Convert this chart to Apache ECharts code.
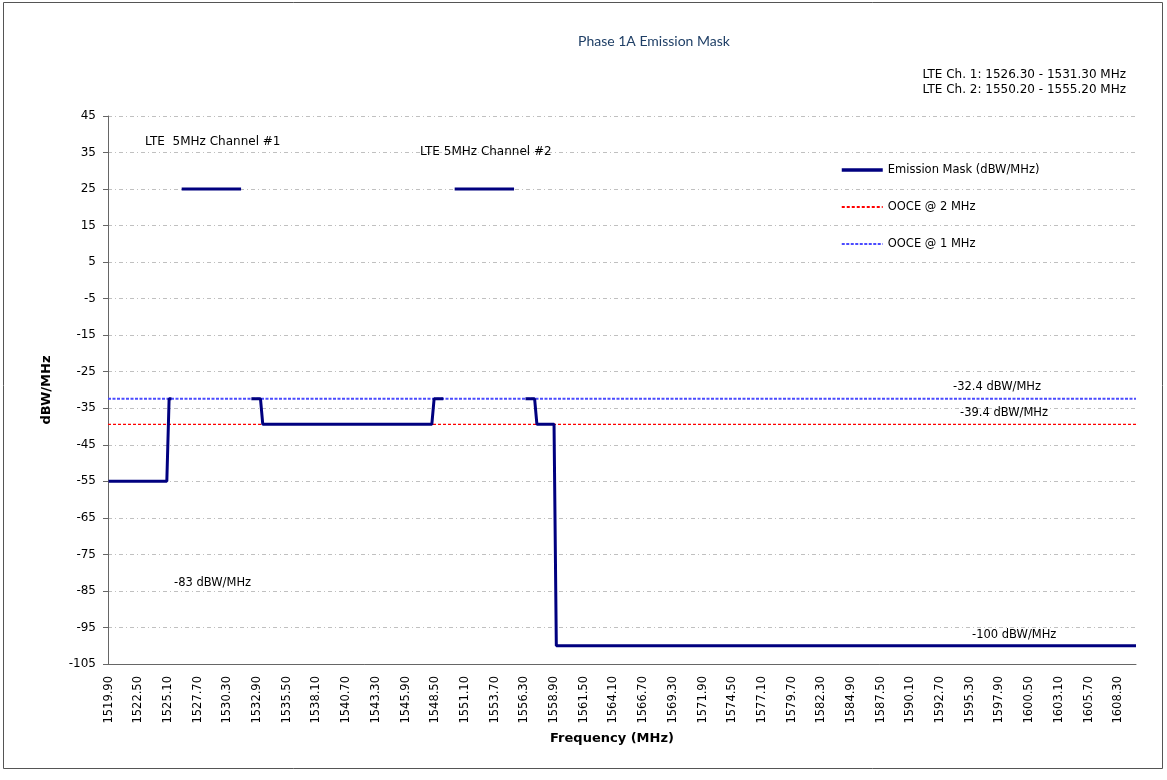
<!DOCTYPE html>
<html>
<head>
    <meta charset="utf-8"/>
    <title>Phase 1A Emission Mask</title>
    <script src="https://cdn.jsdelivr.net/npm/echarts@6/dist/echarts.min.js"></script>
    <style>
        html, body { margin: 0; padding: 0; background: #fff; }
        #chart { width: 1167px; height: 780px; }
    </style>
</head>
<body>
<div id="chart"></div>
<script>
    // x categories: 0.1 MHz steps, as in the spreadsheet
    var freqStart = 1519.9;
    var freqStep = 0.1;
    var freqCount = 900;
    var frequencies = [];
    for (var i = 0; i < freqCount; i++) {
        frequencies.push((freqStart + i * freqStep).toFixed(2));
    }

    // emission mask pieces [MHz, dBW/MHz]
    var maskLow = [[1519.9, -55], [1525.0, -55], [1525.2, -32.4], [1525.4, -32.4]];
    var ch1Band = [[1526.3, 25], [1531.5, 25]];
    var maskMid = [[1532.4, -32.4], [1533.2, -32.4], [1533.4, -39.4], [1548.2, -39.4],
                   [1548.4, -32.4], [1549.2, -32.4]];
    var ch2Band = [[1550.2, 25], [1555.4, 25]];
    var maskHigh = [[1556.4, -32.4], [1557.2, -32.4], [1557.4, -39.4], [1558.9, -39.4],
                    [1559.1, -100], [1609.85, -100]];

    // out of channel emission limits
    var ooce1MHz = [[1519.85, -32.4], [1609.85, -32.4]];
    var ooce2MHz = [[1519.85, -39.4], [1609.85, -39.4]];

    var yMin = -105, yMax = 45, yStep = 10;

    var FONT = 'DejaVu Sans';
    var maskName = 'Emission Mask (dBW/MHz)';

    var chart = echarts.init(document.getElementById('chart'), null, {renderer: 'canvas'});

    var series = [maskLow, ch1Band, maskMid, ch2Band, maskHigh].map(function (piece) {
        return {
            name: maskName,
            type: 'line',
            xAxisIndex: 1,
            data: piece,
            symbol: 'none',
            z: 5,
            lineStyle: {color: '#00007F', width: 3},
            itemStyle: {color: '#00007F'}
        };
    });
    series.push({
        name: 'OOCE @ 2 MHz',
        type: 'line',
        xAxisIndex: 1,
        data: ooce2MHz,
        symbol: 'none',
        z: 3,
        lineStyle: {color: '#FF0000', width: 1.2, type: [3, 2]},
        itemStyle: {color: '#FF0000'}
    });
    series.push({
        name: 'OOCE @ 1 MHz',
        type: 'line',
        xAxisIndex: 1,
        data: ooce1MHz,
        symbol: 'none',
        z: 3,
        lineStyle: {color: '#4B4BFF', width: 1.8, type: [3, 1.5]},
        itemStyle: {color: '#4B4BFF'}
    });

    function label(text, x, y, opts) {
        opts = opts || {};
        return {
            type: 'text',
            x: x,
            y: y,
            style: {
                text: text,
                fill: opts.color || '#000',
                font: (opts.weight || 'normal') + ' ' + (opts.size || 11.5) + 'px "' + (opts.family || FONT) + '"',
                align: opts.align || 'left',
                verticalAlign: 'middle'
            },
            z: 10
        };
    }

    var option = {
        animation: false,
        backgroundColor: '#fff',
        grid: {left: 108, top: 116, right: 31, bottom: 116},
        legend: {
            data: [
                {name: maskName, lineStyle: {width: 3.5}},
                'OOCE @ 2 MHz',
                'OOCE @ 1 MHz'
            ],
            orient: 'vertical',
            left: 840,
            top: 164,
            padding: 0,
            itemWidth: 41,
            itemHeight: 14,
            itemGap: 25,
            itemStyle: {opacity: 0},
            textStyle: {fontFamily: FONT, fontSize: 11.5, color: '#000'}
        },
        xAxis: [{
            type: 'category',
            data: frequencies,
            boundaryGap: true,
            axisLine: {onZero: false, lineStyle: {color: '#666', width: 1}},
            axisTick: {interval: 19, length: 4, lineStyle: {color: '#666'}},
            axisLabel: {
                interval: 25,
                rotate: 90,
                margin: 12,
                fontFamily: FONT,
                fontSize: 11.5,
                color: '#000'
            },
            splitLine: {show: false}
        }, {
            type: 'value',
            min: 1519.85,
            max: 1609.85,
            show: false
        }],
        yAxis: {
            type: 'value',
            min: yMin,
            max: yMax,
            interval: yStep,
            name: 'dBW/MHz',
            nameLocation: 'middle',
            nameRotate: 90,
            nameGap: 55,
            nameTextStyle: {fontFamily: FONT, fontSize: 13, fontWeight: 'bold', color: '#000'},
            axisLine: {show: true, lineStyle: {color: '#666', width: 1}},
            axisTick: {show: true, length: 5, lineStyle: {color: '#666'}},
            axisLabel: {margin: 12, fontFamily: FONT, fontSize: 12, color: '#000'},
            splitLine: {lineStyle: {color: '#C0C0C0', width: 1, type: [4, 3, 1, 3]}}
        },
        graphic: [
            {
                type: 'rect',
                shape: {x: 3.5, y: 2.5, width: 1159, height: 766},
                style: {fill: 'none', stroke: '#555', lineWidth: 1},
                z: 0,
                silent: true
            },
            label('Phase 1A Emission Mask', 654, 41, {align: 'center', size: 14, family: 'Lato', color: '#1F3F66'}),
            label('LTE Ch. 1: 1526.30 - 1531.30 MHz', 1126, 75, {align: 'right', size: 12}),
            label('LTE Ch. 2: 1550.20 - 1555.20 MHz', 1126, 90, {align: 'right', size: 12}),
            label('LTE  5MHz Channel #1', 145, 142, {size: 12}),
            label('LTE 5MHz Channel #2', 420, 152, {size: 12}),
            label('-32.4 dBW/MHz', 953, 387),
            label('-39.4 dBW/MHz', 960, 413),
            label('-83 dBW/MHz', 174, 583),
            label('-100 dBW/MHz', 972, 635),
            label('Frequency (MHz)', 612, 739, {align: 'center', size: 13, weight: 'bold'})
        ],
        series: series
    };

    chart.setOption(option);
</script>
</body>
</html>
